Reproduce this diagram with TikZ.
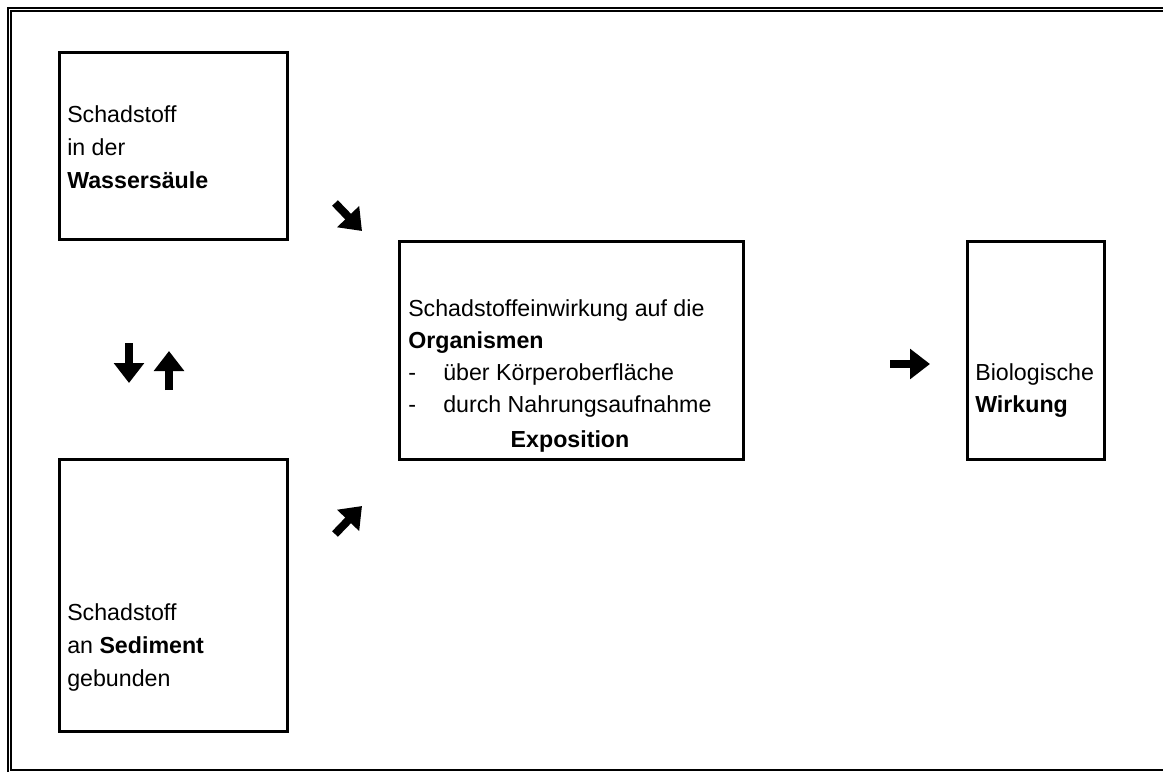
\documentclass[tikz,border=0pt]{standalone}
\usepackage{fontspec}
\setmainfont{Liberation Sans}
\usetikzlibrary{arrows.meta}

\begin{document}
\begin{tikzpicture}[x=0.75pt,y=-0.75pt,
        box/.style={draw,line width=2.25pt,anchor=north west,inner sep=0pt},
        txt/.style={anchor=base west,inner sep=0pt,font=\fontsize{17.4}{20}\selectfont},
        bigarrow/.style={line width=6pt,-{Triangle[length=15pt,width=22pt]}}]
        \useasboundingbox (0,0) rectangle (1163,772);
        \draw [line width=1.5pt] (7.5,772) -- (7.5,7.5) -- (1163,7.5);
        \draw [line width=1.2pt] (1163,11) -- (11,11) -- (11,770) -- (1163,770);

        \node [box,minimum width=171pt,minimum height=140.25pt] (wasser) at (58,51) {};
        \node [box,minimum width=171pt,minimum height=204pt] (sediment) at (58,458) {};
        \node [box,minimum width=258pt,minimum height=163.5pt] (exposition) at (398,240) {};
        \node [box,minimum width=102.75pt,minimum height=163.5pt] (wirkung) at (966,240) {};

        \node [txt] (w1) at (67,122) {Schadstoff};
        \node [txt] (w2) at (67,155) {in der};
        \node [txt] (w3) at (67,188) {\textbf{Wassersäule}};

        \node [txt] (s1) at (67,620) {Schadstoff};
        \node [txt] (s2) at (67,653) {an \textbf{Sediment}};
        \node [txt] (s3) at (67,686) {gebunden};

        \node [txt] (e1) at (408,316) {Schadstoffeinwirkung auf die};
        \node [txt] (e2) at (408,348) {\textbf{Organismen}};
        \node [txt] (e3) at (408,380) {\makebox[26.25pt][l]{-}über Körperoberfläche};
        \node [txt] (e4) at (408,412) {\makebox[26.25pt][l]{-}durch Nahrungsaufnahme};
        \node [txt,anchor=base] (e5) at (570,447) {\textbf{Exposition}};

        \node [txt] (b1) at (975,380) {Biologische};
        \node [txt] (b2) at (975,412) {\textbf{Wirkung}};

        \coordinate (p1) at (335,203);
        \coordinate (p2) at (362,231);
        \coordinate (p3) at (129,343);
        \coordinate (p4) at (129,383);
        \coordinate (p5) at (169,390);
        \coordinate (p6) at (169,351);
        \coordinate (p7) at (890,364);
        \coordinate (p8) at (930,364);
        \coordinate (p9) at (335,534);
        \coordinate (p10) at (362,506);
        \draw [bigarrow] (p1) -- (p2);
        \draw [bigarrow] (p3) -- (p4);
        \draw [bigarrow] (p5) -- (p6);
        \draw [bigarrow] (p7) -- (p8);
        \draw [bigarrow] (p9) -- (p10);
    \end{tikzpicture}
\end{document}
